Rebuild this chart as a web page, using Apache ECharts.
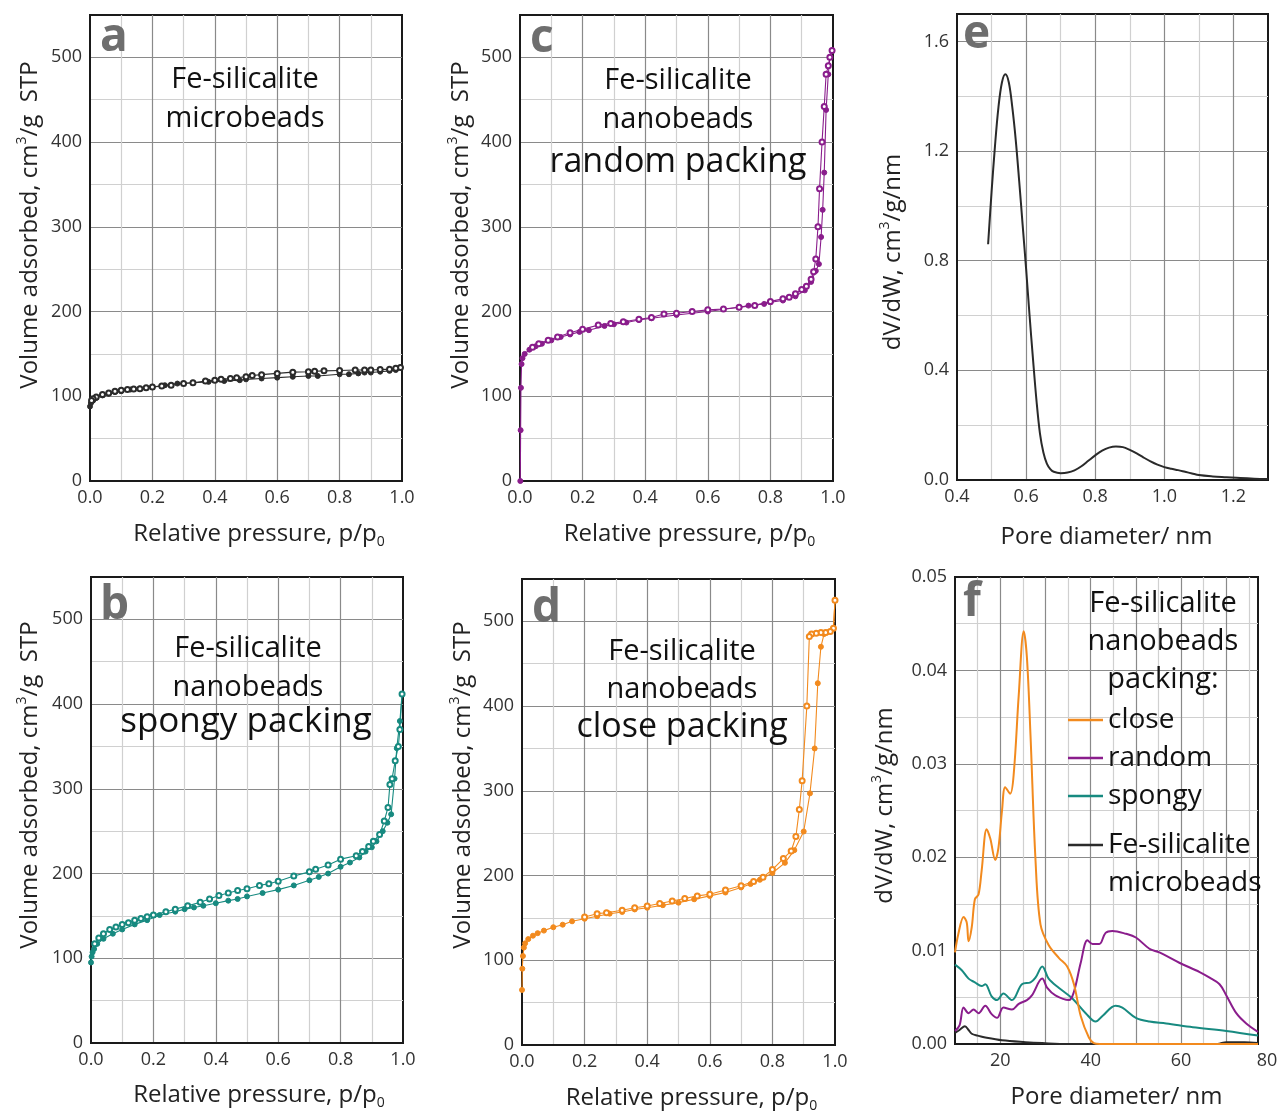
<!DOCTYPE html>
<html><head><meta charset="utf-8">
<script src="https://cdn.jsdelivr.net/npm/echarts/dist/echarts.min.js"></script>
<style>html,body{margin:0;padding:0;background:#fff}#c{width:1277px;height:1116px}</style>
</head><body><div id="c"></div>
<script>
// ---------- DATA ----------
// Panel a: Fe-silicalite microbeads (adsorption filled, desorption open)
const aAds = [[0.0,88],[0.003,92],[0.01,95],[0.02,98],[0.04,101],[0.06,103],[0.08,105],[0.1,106],[0.13,108],[0.16,109],[0.2,111],[0.24,113],[0.28,115],[0.33,116],[0.38,117],[0.43,118],[0.48,119],[0.5,120],[0.55,121],[0.6,122],[0.65,123],[0.7,124],[0.73,124],[0.8,126],[0.83,126],[0.86,127],[0.88,128],[0.9,128],[0.93,129],[0.96,130],[0.98,131],[0.995,134]];
const aDes = [[0.995,134],[0.98,133],[0.96,132],[0.93,131.5],[0.9,131],[0.88,131],[0.85,131],[0.8,130.5],[0.75,130],[0.72,129.5],[0.7,129],[0.65,128.5],[0.6,127],[0.55,125.5],[0.52,124.5],[0.5,123],[0.47,122],[0.45,121],[0.42,120],[0.4,119],[0.37,118],[0.33,116],[0.3,115],[0.26,113],[0.23,112],[0.2,111],[0.18,110],[0.16,109],[0.14,108.5],[0.12,108],[0.1,107],[0.08,106],[0.06,104],[0.04,102],[0.02,99],[0.01,97],[0.005,95]];
// Panel c: random packing
const cAds = [[0.001,0],[0.002,60],[0.003,110],[0.005,138],[0.008,145],[0.015,150],[0.03,155],[0.05,159],[0.07,162],[0.1,166],[0.13,170],[0.16,173],[0.19,176],[0.22,178],[0.27,183],[0.3,185],[0.34,187],[0.38,190],[0.42,192],[0.5,196],[0.6,200],[0.7,205],[0.73,207],[0.78,209],[0.8,211],[0.84,213],[0.88,218],[0.91,225],[0.93,235],[0.945,248],[0.955,256],[0.962,288],[0.967,320],[0.972,364],[0.978,438],[0.985,480],[0.99,500],[0.997,508]];
const cDes = [[0.997,508],[0.99,500],[0.985,490],[0.978,480],[0.972,442],[0.965,400],[0.957,345],[0.952,300],[0.945,262],[0.938,247],[0.93,238],[0.915,230],[0.9,226],[0.88,221],[0.86,217],[0.84,215],[0.8,212],[0.75,207],[0.7,205],[0.65,203],[0.6,202],[0.55,200],[0.5,198],[0.46,197],[0.42,193],[0.38,191],[0.33,188],[0.29,186],[0.25,184],[0.2,179],[0.16,175],[0.12,170],[0.09,166],[0.06,162],[0.04,158]];
// Panel b: spongy packing
const bAds = [[0.0,95],[0.002,102],[0.005,107],[0.01,111],[0.02,117],[0.04,123],[0.07,129],[0.1,134],[0.14,140],[0.18,145],[0.22,151],[0.27,155],[0.3,158],[0.33,160],[0.36,162],[0.4,165],[0.44,168],[0.47,170],[0.5,173],[0.55,177],[0.6,181],[0.65,186],[0.7,192],[0.73,196],[0.76,200],[0.8,208],[0.83,213],[0.86,219],[0.88,226],[0.9,231],[0.915,238],[0.935,250],[0.95,260],[0.962,270],[0.973,312],[0.98,348],[0.99,380],[0.997,412]];
const bDes = [[0.997,412],[0.99,370],[0.985,350],[0.975,333],[0.965,312],[0.958,305],[0.952,278],[0.94,262],[0.925,246],[0.905,238],[0.89,232],[0.87,226],[0.85,221],[0.8,217],[0.76,210],[0.72,205],[0.7,202],[0.65,197],[0.6,191],[0.57,188],[0.54,186],[0.5,182],[0.47,180],[0.44,177],[0.41,174],[0.38,170],[0.35,166],[0.31,162],[0.27,158],[0.24,155],[0.2,151],[0.18,149],[0.16,147],[0.14,145],[0.12,142],[0.1,140],[0.08,137],[0.06,134],[0.04,129],[0.025,124],[0.012,117]];
// Panel d: close packing
const dAds = [[0.0,65],[0.001,90],[0.003,105],[0.006,115],[0.01,120],[0.02,125],[0.035,129],[0.05,132],[0.07,135],[0.1,139],[0.13,142],[0.16,146],[0.2,149],[0.24,152],[0.28,155],[0.32,157],[0.36,160],[0.4,162],[0.45,165],[0.5,168],[0.55,172],[0.6,176],[0.65,180],[0.7,186],[0.73,190],[0.76,195],[0.8,203],[0.84,215],[0.87,230],[0.9,252],[0.92,297],[0.935,350],[0.945,427],[0.955,470],[0.965,485],[0.975,487],[0.985,488],[0.995,492],[1.0,525]];
const dDes = [[1.0,525],[0.995,492],[0.985,488],[0.97,487],[0.955,487],[0.94,486],[0.925,485],[0.918,482],[0.91,400],[0.895,312],[0.886,278],[0.875,246],[0.86,229],[0.835,220],[0.8,207],[0.77,198],[0.74,193],[0.7,188],[0.65,183],[0.6,178],[0.56,176],[0.52,173],[0.48,170],[0.44,167],[0.4,164],[0.36,162],[0.32,159],[0.27,156],[0.24,155],[0.2,151]];
// Panel e: micropore size distribution (microbeads)
const eDist = [[0.49,0.86],[0.50,1.05],[0.51,1.22],[0.52,1.36],[0.53,1.45],[0.54,1.48],[0.55,1.45],[0.56,1.36],[0.57,1.24],[0.58,1.09],[0.59,0.93],[0.60,0.77],[0.61,0.60],[0.62,0.44],[0.63,0.29],[0.64,0.17],[0.65,0.10],[0.66,0.06],[0.67,0.04],[0.68,0.03],[0.70,0.025],[0.72,0.027],[0.74,0.035],[0.76,0.05],[0.78,0.07],[0.80,0.09],[0.82,0.107],[0.84,0.118],[0.86,0.122],[0.88,0.12],[0.90,0.11],[0.92,0.097],[0.94,0.082],[0.96,0.068],[0.98,0.056],[1.00,0.047],[1.02,0.041],[1.04,0.036],[1.06,0.030],[1.08,0.024],[1.10,0.018],[1.14,0.013],[1.18,0.010],[1.22,0.007],[1.26,0.005],[1.30,0.004]];
// Panel f: mesopore size distributions
const fClose = [[10,0.0098],[10.7,0.0117],[11.9,0.0136],[12.6,0.013],[13,0.011],[13.7,0.0125],[14.4,0.0155],[15.2,0.016],[15.9,0.0186],[17,0.023],[17.8,0.022],[18.9,0.0197],[19.6,0.021],[20.4,0.025],[21.1,0.0275],[22.2,0.0268],[23,0.029],[24.1,0.0374],[25.2,0.0442],[25.9,0.0414],[26.7,0.033],[27.8,0.0197],[28.9,0.0128],[30.7,0.0106],[33,0.0092],[34.8,0.0083],[36.3,0.0064],[37.8,0.003],[39.6,0.0007],[40.7,0.0001],[42,0],[77,0]];
const fRandom = [[10,0.0014],[11,0.002],[11.9,0.0039],[13,0.0033],[14.1,0.0037],[15.2,0.0033],[16.7,0.0041],[18.1,0.0032],[19.3,0.0028],[20.7,0.0039],[22.6,0.0037],[24.1,0.0043],[25.9,0.0047],[27,0.0052],[29.3,0.007],[30.4,0.006],[32.2,0.0052],[35.2,0.0047],[36.3,0.0056],[37.8,0.0087],[39.3,0.0111],[40.4,0.0107],[41.9,0.0107],[43.3,0.0119],[44.8,0.0121],[47.8,0.0118],[50,0.0114],[53,0.0102],[55.2,0.0098],[59.6,0.0087],[64.1,0.0077],[66.3,0.0071],[68.5,0.0064],[70,0.0052],[72.2,0.0033],[74.4,0.0022],[77,0.0013]];
const fSpongy = [[10,0.0085],[11.5,0.0079],[13,0.007],[14.4,0.0066],[15.9,0.0062],[16.7,0.0064],[18.1,0.0051],[19.3,0.0047],[20.7,0.0054],[22.6,0.0047],[24.8,0.0064],[26.7,0.0066],[27.8,0.0071],[29.3,0.0083],[30.7,0.007],[33,0.006],[35.9,0.0049],[38.9,0.0033],[41.1,0.0024],[42.6,0.003],[45.5,0.0041],[47,0.0039],[50,0.0028],[53,0.0024],[56.7,0.0022],[62.6,0.0018],[70,0.0014],[77,0.0009]];
const fMicro = [[10,0.0012],[11,0.0015],[12.2,0.0019],[13,0.0015],[13.7,0.0011],[15,0.0009],[16.7,0.0007],[20.4,0.0004],[25.6,0.0002],[29.3,0.0001],[35,0],[68,0],[70,0.0002],[74,0.0002],[77,0.0001]];
// Tick label sets
const isoYLabels = [0,100,200,300,400,500];
const isoXLabels = [0.0,0.2,0.4,0.6,0.8,1.0];
const eXLabels = [0.4,0.6,0.8,1.0,1.2];
const eYLabels = [0.0,0.4,0.8,1.2,1.6];
const fXLabels = [20,40,60,80];
const fYLabels = [0.00,0.01,0.02,0.03,0.04,0.05];

// ---------- STYLE ----------
const FF = "'Open Sans', 'Noto Sans', sans-serif";
const C_MICRO = '#2b2b2b', C_RANDOM = '#8a1d8c', C_SPONGY = '#178a80', C_CLOSE = '#f28a1e';
const DARK = '#8a8a8a', LIGHT = '#d0d0d0';

const grids = [
  {left:90, top:15, width:312, height:466},   // a
  {left:520, top:15, width:313, height:466},  // c
  {left:957, top:14, width:311, height:466},  // e
  {left:91, top:577, width:312, height:466},  // b
  {left:522, top:579, width:313, height:466}, // d
  {left:955, top:577, width:303, height:467}  // f
].map(g => Object.assign({show:true, backgroundColor:'#fff', borderColor:'#1a1a1a', borderWidth:2, containLabel:false}, g));

const rich = {
  sup:{fontSize:14, fontFamily:FF, color:'#222', verticalAlign:'top'},
  sub:{fontSize:14, fontFamily:FF, color:'#222', verticalAlign:'bottom', lineHeight:14, padding:[19,0,0,0]}
};
function nameStyle(pad){ return {fontSize:24, lineHeight:30, fontFamily:FF, color:'#222', padding:pad, rich:rich}; }
function near(v, arr, eps){ return arr.some(a => Math.abs(a - v) < eps); }

function axisCommon(gi, min, max, interval, labelFn, name, gap, colors, pad){
  return {
    type:'value', gridIndex:gi, min:min, max:max, interval:interval,
    axisLine:{show:true, lineStyle:{color:'#1a1a1a', width:2}},
    axisTick:{show:false},
    axisLabel:{fontSize:18, fontFamily:FF, color:'#333', formatter:labelFn},
    splitLine:{show:true, showMinLine:false, showMaxLine:false, lineStyle:{color:colors, width:1.2}},
    name:name, nameLocation:'middle', nameGap:gap, nameTextStyle:nameStyle(pad)
  };
}
const isoX = (gi, gap, pad) => axisCommon(gi, 0, 1, 0.1, v => near(v, isoXLabels, 1e-6) ? v.toFixed(1) : '', 'Relative pressure, p/p{sub|0}', gap, [LIGHT, DARK], pad);
const isoY = (gi, gap, pad) => axisCommon(gi, 0, 550, 50, v => near(v, isoYLabels, 1e-6) ? String(v) : '', 'Volume adsorbed, cm{sup|3}/g  STP', gap, [LIGHT, DARK], pad);

const xAxes = [
  isoX(0, 38, [0,0,0,26]), isoX(1, 38, [0,0,0,26]),
  axisCommon(2, 0.4, 1.3, 0.1, v => near(v, eXLabels, 1e-6) ? v.toFixed(1) : '', 'Pore diameter/ nm', 42, [LIGHT, DARK], [0,12,0,0]),
  isoX(3, 37, [0,0,0,24]), isoX(4, 38, [0,0,0,26]),
  axisCommon(5, 10, 77, 5, v => near(v, fXLabels, 1e-6) ? String(v) : '', 'Pore diameter/ nm', 38, [LIGHT, DARK], [0,0,0,20])
];
const yAxes = [
  isoY(0, 45, [0,0,0,46]), isoY(1, 44, [0,0,0,46]),
  axisCommon(2, 0, 1.7, 0.2, v => near(v, eYLabels, 1e-6) ? v.toFixed(1) : '', 'dV/dW, cm{sup|3}/g/nm', 49, [LIGHT, DARK], [0,10,0,0]),
  isoY(3, 46, [0,0,0,50]), isoY(4, 44, [0,0,0,54]),
  axisCommon(5, 0, 0.05, 0.005, v => near(v, fYLabels, 1e-6) ? v.toFixed(2) : '', 'dV/dW, cm{sup|3}/g/nm', 55, [LIGHT, DARK], [0,0,0,10])
];

function iso(name, gi, data, color, filled){
  return {name:name, type:'line', xAxisIndex:gi, yAxisIndex:gi, data:data,
    symbol: filled ? 'circle' : 'emptyCircle', symbolSize:5, showSymbol:true, showAllSymbol:true,
    lineStyle:{color:color, width:1.1}, itemStyle:{color:color, borderColor:color, borderWidth:1},
    emphasis:{disabled:true}, z: filled ? 3 : 4};
}
function dist(name, gi, data, color, width){
  return {name:name, type:'line', xAxisIndex:gi, yAxisIndex:gi, data:data, symbol:'none', smooth:0.35,
    lineStyle:{color:color, width:width}, itemStyle:{color:color}, emphasis:{disabled:true}};
}

const series = [
  iso('a-ads', 0, aAds, C_MICRO, true), iso('a-des', 0, aDes, C_MICRO, false),
  iso('c-ads', 1, cAds, C_RANDOM, true), iso('c-des', 1, cDes, C_RANDOM, false),
  dist('e-dist', 2, eDist, '#2a2a2a', 2),
  iso('b-ads', 3, bAds, C_SPONGY, true), iso('b-des', 3, bDes, C_SPONGY, false),
  iso('d-ads', 4, dAds, C_CLOSE, true), iso('d-des', 4, dDes, C_CLOSE, false),
  dist('Fe-silicalite microbeads', 5, fMicro, C_MICRO, 2),
  dist('spongy', 5, fSpongy, C_SPONGY, 2),
  dist('random', 5, fRandom, C_RANDOM, 2),
  dist('close', 5, fClose, C_CLOSE, 2)
];

function txt(s, x, y, size, opts){
  opts = opts || {};
  return {type:'text', x:x, y:y, z:50, silent:true, style:{text:s, fontSize:size, fontFamily:FF,
    fontWeight: opts.bold ? 'bold' : 'normal', fill: opts.fill || '#111',
    align: opts.align || 'center', verticalAlign:'middle', textAlign: opts.align || 'center', textVerticalAlign:'middle'}};
}
const letterOpt = {bold:true, fill:'#6e6e6e', align:'left'};
const graphics = [
  txt('a', 100, 38, 46, letterOpt), txt('c', 530, 39, 46, letterOpt), txt('e', 963, 35, 46, letterOpt),
  txt('b', 100, 606, 46, letterOpt), txt('d', 532, 609, 46, letterOpt), txt('f', 963, 603, 46, letterOpt),
  txt('Fe-silicalite', 245, 80, 29), txt('microbeads', 245, 119, 29),
  txt('Fe-silicalite', 678, 81, 29), txt('nanobeads', 678, 120, 29), txt('random packing', 678, 162, 34),
  txt('Fe-silicalite', 248, 649, 29), txt('nanobeads', 248, 688, 29), txt('spongy packing', 246, 722, 35),
  txt('Fe-silicalite', 682, 652, 29), txt('nanobeads', 682, 690, 29), txt('close packing', 682, 727, 34),
  txt('Fe-silicalite', 1163, 604, 29), txt('nanobeads', 1163, 642, 29), txt('packing:', 1163, 680, 29),
  txt('80', 1267, 1061, 18, {fill:'#333'})
];

const legendText = {fontSize:28, fontFamily:FF, color:'#111', lineHeight:38};
const option = {
  animation:false,
  backgroundColor:'#fff',
  grid:grids, xAxis:xAxes, yAxis:yAxes, series:series,
  legend:[
    {orient:'vertical', left:1068, top:701, padding:0, itemGap:0, itemWidth:35, itemHeight:2.5, icon:'rect',
     selectedMode:false, data:['close','random','spongy'], textStyle:legendText},
    {orient:'vertical', left:1068, top:788, padding:0, itemGap:0, itemWidth:35, itemHeight:2.5, icon:'rect',
     selectedMode:false, data:['Fe-silicalite microbeads'], formatter:() => ' \nFe-silicalite\nmicrobeads',
     textStyle:legendText}
  ],
  graphic:graphics
};
const chart = echarts.init(document.getElementById('c'), null, {renderer:'canvas'});
chart.setOption(option);
</script></body></html>
